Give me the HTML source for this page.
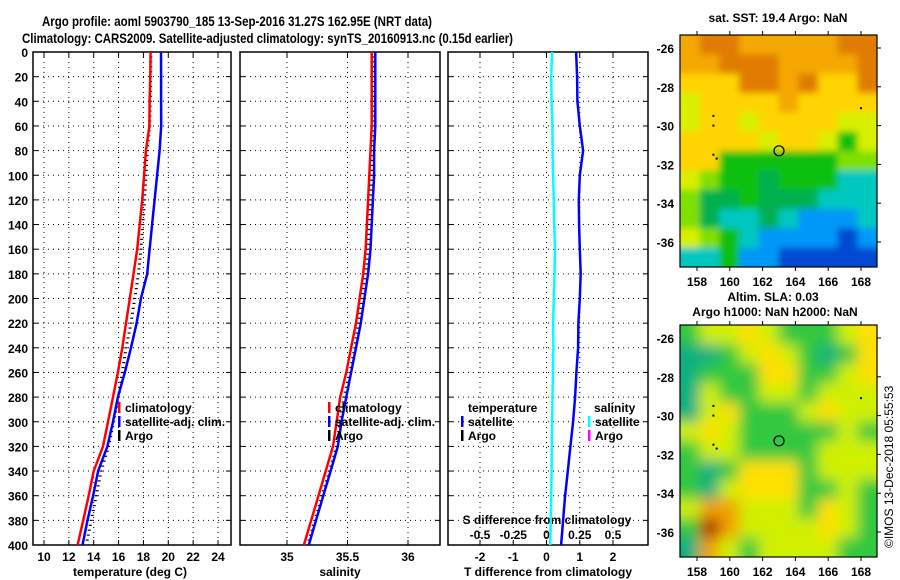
<!DOCTYPE html>
<html><head><meta charset="utf-8"><style>
body{margin:0;background:#fff}
svg{display:block;font-family:"Liberation Sans",sans-serif;font-weight:bold}
</style></head><body>
<svg id="c" width="900" height="580" xmlns="http://www.w3.org/2000/svg">
<defs>
<filter id="bl1"><feGaussianBlur stdDeviation="3.5"/></filter>
<filter id="bl2"><feGaussianBlur stdDeviation="7"/></filter>
<clipPath id="cm1"><rect x="680" y="35" width="197" height="232"/></clipPath>
<clipPath id="cm2"><rect x="680" y="325" width="197" height="232"/></clipPath>
</defs>
<text x="42" y="26" font-size="14" textLength="390" lengthAdjust="spacingAndGlyphs">Argo profile: aoml 5903790_185 13-Sep-2016 31.27S 162.95E (NRT data)</text>
<text x="22" y="43" font-size="14" textLength="491" lengthAdjust="spacingAndGlyphs">Climatology: CARS2009. Satellite-adjusted climatology: synTS_20160913.nc (0.15d earlier)</text>
<g id="g"></g>
</svg>
<script>
const depths=[0,20,40,60,80,100,120,140,160,180,200,220,240,260,280,300,320,340,360,380,400];
const tempClim=[18.58,18.55,18.5,18.48,18.2,18.05,17.9,17.7,17.5,17.2,16.9,16.6,16.3,15.95,15.55,15.15,14.75,14.0,13.6,13.15,12.7];
const tempSat=[19.41,19.42,19.42,19.43,19.3,19.1,18.9,18.7,18.5,18.3,17.8,17.45,17.0,16.5,15.95,15.55,15.1,14.35,13.95,13.5,13.1];
const tempArgo=[18.6,18.58,18.55,18.5,18.3,18.2,18.1,17.95,17.8,17.6,17.3,17.0,16.6,16.3,16.0,15.6,15.2,14.6,14.2,13.8,13.4];
const salClim=[35.70,35.70,35.70,35.70,35.69,35.68,35.67,35.66,35.65,35.63,35.60,35.57,35.53,35.49,35.44,35.41,35.38,35.32,35.26,35.20,35.14];
const salSat=[35.73,35.73,35.73,35.73,35.72,35.72,35.71,35.70,35.69,35.67,35.64,35.61,35.57,35.53,35.49,35.45,35.42,35.36,35.30,35.24,35.18];
const salArgo=[35.71,35.71,35.71,35.71,35.70,35.70,35.69,35.68,35.67,35.65,35.62,35.59,35.56,35.52,35.47,35.44,35.41,35.35,35.29,35.23,35.17];
const tDiff=[0.89,0.92,0.93,1.0,1.1,1.0,0.97,0.98,1.0,1.03,1.0,0.96,0.95,0.9,0.86,0.8,0.72,0.64,0.56,0.5,0.44];
const sDiff=[0.042,0.035,0.038,0.044,0.046,0.05,0.055,0.058,0.064,0.06,0.055,0.05,0.052,0.048,0.045,0.042,0.04,0.038,0.035,0.032,0.028];
const depthTicks=[0,20,40,60,80,100,120,140,160,180,200,220,240,260,280,300,320,340,360,380,400];
const tTicks=[10,12,14,16,18,20,22,24];
const sTicks=[35,35.5,36];
const sTickLabels=["35","35.5","36"];
const dTicks=[-2,-1,0,1,2];
const sdTicks=[-0.5,-0.25,0,0.25,0.5];
const sdTickLabels=["-0.5","-0.25","0","0.25","0.5"];
const lonTicks=[158,160,162,164,166,168];
const latTicks=[-26,-28,-30,-32,-34,-36];
const sstGrid=["oOOoooooOO","ooOOOooooO","YYYOOoOYYO","yYYYYoYYYY","yYYyYYYYyy","YYYYyYYyGy","YYGGGGGGgg","ygGGDGGGcc","gDDGDDDccc","gDccDcbbbc","ygGcbbbbBb","ccGbbBBBBB"];
const slaGrid=["GyyYyGGGyY","TTGyYyGTGY","TGGGYYGGyY","TyGGyyGyyy","TyYGGGyYyy","yYyGGGGGyG","GyyGGGGyyy","GTGYYYGyyy","GTyYYYGGyG","yOOyyyGYyG","GROyyyyYyG","TOyGyyyyGG"];
const sstCol={O:"#e07c00",o:"#f4a800",Y:"#ffd400",y:"#d8f000",g:"#80e000",G:"#10c010",D:"#00b050",c:"#00c8c0",b:"#0098f8",B:"#0048d0"};
const slaCol={G:"#30c840",T:"#10b080",y:"#d0f000",Y:"#ffe000",O:"#f0a000",R:"#b02000"};

const g=document.getElementById('g');
const NS="http://www.w3.org/2000/svg";
function mk(t,a,p){const e=document.createElementNS(NS,t);for(const k in a)e.setAttribute(k,a[k]);(p||g).appendChild(e);return e;}
const Y0=52,Y1=545;
function yD(d){return Y0+(d/400)*(Y1-Y0);}
function lin(d0,d1,p0,p1){return v=>p0+(v-d0)/(d1-d0)*(p1-p0);}
const xT=lin(10,24,44,218), xS=lin(35,36,287,408), xDf=lin(-2,2,480,613), xSd=lin(-0.5,0.5,480,613);
const panels=[[33,231],[240,440],[448,648]];

function txt(x,y,s,o,name){const e=mk('text',Object.assign({x:x,y:y,'font-size':12},o||{}));e.textContent=s;

return e;}

panels.forEach((p,i)=>{
  const r=mk('rect',{x:p[0],y:Y0,width:p[1]-p[0],height:Y1-Y0,fill:'none',stroke:'#000','stroke-width':1.5});
  
  
  depthTicks.forEach(d=>{if(d===0||d===400)return;
    const l=mk('line',{x1:p[0],x2:p[1],y1:yD(d),y2:yD(d),stroke:'#000','stroke-dasharray':'1,4'});
    
    
    mk('line',{x1:p[0],x2:p[0]+5,y1:yD(d),y2:yD(d),stroke:'#000'});
    mk('line',{x1:p[1]-5,x2:p[1],y1:yD(d),y2:yD(d),stroke:'#000'});
  });
});
depthTicks.forEach(d=>txt(28,yD(d)+5,String(d),{'text-anchor':'end'},'depth-tick-label'));
function vgrid(xs,fx){xs.forEach(v=>{const x=fx(v);
  const l=mk('line',{x1:x,x2:x,y1:Y0,y2:Y1,stroke:'#000','stroke-dasharray':'1,4'});
  
  
  mk('line',{x1:x,x2:x,y1:Y0,y2:Y0+5,stroke:'#000'});mk('line',{x1:x,x2:x,y1:Y1-5,y2:Y1,stroke:'#000'});});}
vgrid(tTicks,xT);vgrid(sTicks,xS);vgrid(dTicks,xDf);
tTicks.forEach(v=>txt(xT(v),561,String(v),{'text-anchor':'middle'},'temperature-tick-label'));
sTicks.forEach((v,i)=>txt(xS(v),561,sTickLabels[i],{'text-anchor':'middle'},'salinity-tick-label'));
dTicks.forEach(v=>txt(xDf(v),561,String(v),{'text-anchor':'middle'},'t-diff-tick-label'));
sdTicks.forEach((v,i)=>txt(xSd(v),539,sdTickLabels[i],{'text-anchor':'middle'},'s-diff-tick-label'));
txt(130,576,'temperature (deg C)',{'text-anchor':'middle'},'x-axis-title-temperature');
txt(340,576,'salinity',{'text-anchor':'middle'},'x-axis-title-salinity');
txt(548,576,'T difference from climatology',{'text-anchor':'middle'},'x-axis-title-t-diff');
txt(547,524,'S difference from climatology',{'text-anchor':'middle'},'axis-title-s-diff');

function prof(vals,fx,col,w,name){let d='';vals.forEach((v,i)=>{d+=(i?'L':'M')+fx(v).toFixed(1)+','+yD(depths[i]).toFixed(1);});
  const p=mk('path',{d:d,fill:'none',stroke:col,'stroke-width':w});
  
  }
function argo(vals,fx,name){const gg=mk('g',{});
  
  
  for(let i=0;i<vals.length-1;i++){for(let k=0;k<5;k++){const f=k/5;const v=vals[i]+(vals[i+1]-vals[i])*f;const d=depths[i]+(depths[i+1]-depths[i])*f;
    mk('line',{x1:fx(v)-1.5,x2:fx(v)+1.5,y1:yD(d),y2:yD(d),stroke:'#000','stroke-width':1.2},gg);}}}
argo(tempArgo,xT,'argo-temperature');
prof(tempClim,xT,'#ff0000',2.5,'climatology-temperature-line');
prof(tempSat,xT,'#0000ff',2.5,'satellite-temperature-line');
argo(salArgo,xS,'argo-salinity');
prof(salClim,xS,'#ff0000',2.5,'climatology-salinity-line');
prof(salSat,xS,'#0000ff',2.5,'satellite-salinity-line');
prof(sDiff,xSd,'#00ffff',2.5,'salinity-diff-satellite-line');
prof(tDiff,xDf,'#0000ff',2.5,'temperature-diff-satellite-line');

function leg(x,y,col,s,name){mk('rect',{x:x,y:y-10,width:2.5,height:11,fill:col});txt(x+7,y,s,{},name);}
leg(118,412,'#ff0000','climatology','legend-climatology');
leg(118,426,'#0000ff','satellite-adj. clim.','legend-satellite-adj');
leg(118,440,'#000','Argo','legend-argo');
leg(328,412,'#ff0000','climatology','legend-climatology-sal');
leg(328,426,'#0000ff','satellite-adj. clim.','legend-satellite-adj-sal');
leg(328,440,'#000','Argo','legend-argo-sal');
txt(468,412,'temperature',{},'legend-temperature-heading');
leg(461,426,'#0000ff','satellite','legend-t-satellite');
leg(461,440,'#000','Argo','legend-t-argo');
txt(594,412,'salinity',{},'legend-salinity-heading');
leg(588,426,'#00ffff','satellite','legend-s-satellite');
leg(588,440,'#ff00ff','Argo','legend-s-argo');

const lonX=lin(158,168,697,861);
function map(top,grid,cols,filt,clip,name){
  const gg=mk('g',{'clip-path':'url(#'+clip+')'});
  
  
  const inner=mk('g',{filter:'url(#'+filt+')'},gg);
  const cw=197/10,ch=232/12;
  grid.forEach((row,r)=>{[...row].forEach((c,k)=>{
    mk('rect',{x:680+k*cw-(k==0?15:0),y:top+r*ch-(r==0?15:0),width:cw+1+(k==0||k==9?15:0),height:ch+1+(r==0||r==11?15:0),fill:cols[c]},inner);});});
  const latY=lin(-26,-36,top+13,top+207);
  mk('circle',{cx:lonX(163),cy:latY(-31.3),r:5,fill:'none',stroke:'#000','stroke-width':1.2},gg);
  [[159,-29.5],[159,-30],[159,-31.5],[159.2,-31.7],[168,-29.1]].forEach(p=>mk('rect',{x:lonX(p[0])-1,y:latY(p[1])-1,width:2,height:2,fill:'#000'},gg));
  const fr=mk('rect',{x:680,y:top,width:197,height:232,fill:'none',stroke:'#000','stroke-width':1.2});
  
  
  lonTicks.forEach(v=>{const x=lonX(v);mk('line',{x1:x,x2:x,y1:top-4,y2:top,stroke:'#000'});mk('line',{x1:x,x2:x,y1:top+232,y2:top+236,stroke:'#000'});
    txt(x,top+251,String(v),{'text-anchor':'middle'},'longitude-tick-label');});
  latTicks.forEach(v=>{const y=latY(v);mk('line',{x1:877,x2:881,y1:y,y2:y,stroke:'#000'});
    txt(674,y+5,String(v),{'text-anchor':'end'},'latitude-tick-label');});
}
map(35,sstGrid,sstCol,'bl1','cm1','sst-map');
map(325,slaGrid,slaCol,'bl2','cm2','sla-map');
txt(778,22,'sat. SST: 19.4 Argo: NaN',{'text-anchor':'middle'},'sst-map-title');
txt(773,301,'Altim. SLA: 0.03',{'text-anchor':'middle'},'sla-map-title');
txt(775,316,'Argo h1000: NaN h2000: NaN',{'text-anchor':'middle'},'sla-map-subtitle');
txt(0,0,'©IMOS 13-Dec-2018 05:55:53',{transform:'translate(893,548) rotate(-90)','font-weight':'normal'},'imos-credit');
</script>
</body></html>
